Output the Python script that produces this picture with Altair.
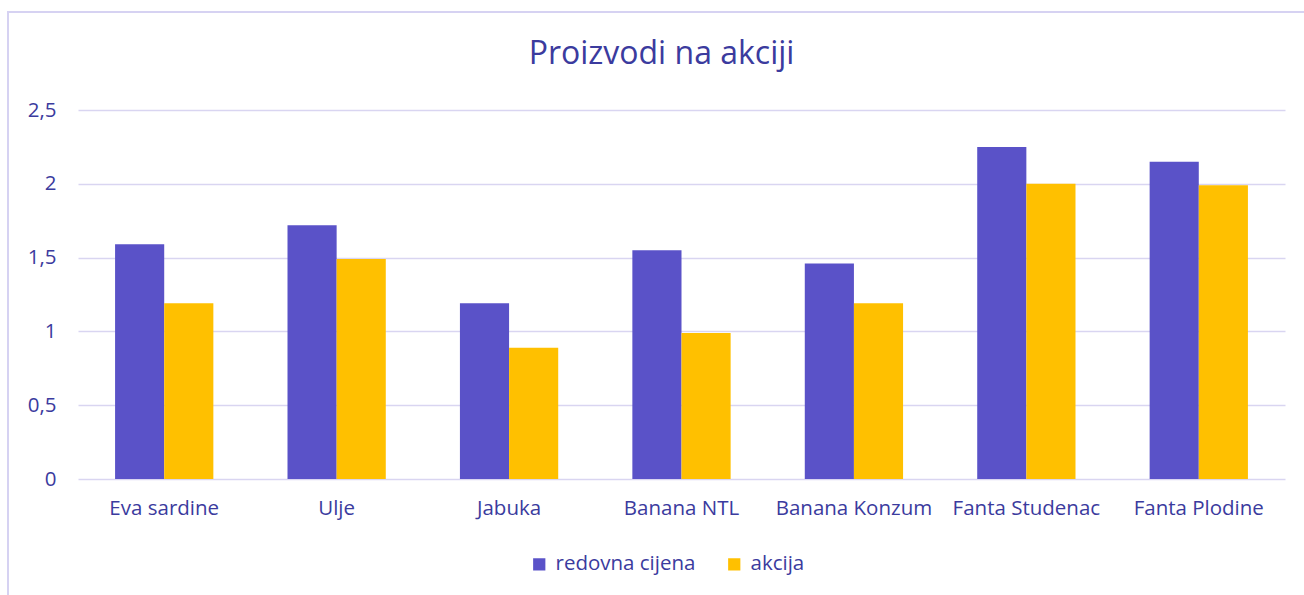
import altair as alt
import pandas as pd

categories = ["Eva sardine", "Ulje", "Jabuka", "Banana NTL", "Banana Konzum", "Fanta Studenac", "Fanta Plodine"]
redovna = [1.59, 1.72, 1.19, 1.55, 1.46, 2.25, 2.15]
akcija = [1.19, 1.49, 0.89, 0.99, 1.19, 2.00, 1.99]
series = ["redovna cijena", "akcija"]
colors = ["#5A52C8", "#FFC000"]

rows = []
for c, r, a in zip(categories, redovna, akcija):
    rows.append({"kat": c, "serija": series[0], "v": r})
    rows.append({"kat": c, "serija": series[1], "v": a})
df = pd.DataFrame(rows)

TXT = "#3B3B9E"
GRID = "#D9D5F1"
FONT = "Open Sans"

bars = alt.Chart(df).mark_bar().encode(
    x=alt.X("kat:N", sort=categories, title=None,
            scale=alt.Scale(paddingInner=0.43, paddingOuter=0.215),
            axis=alt.Axis(labelAngle=0, ticks=False, domain=False, labelPadding=19,
                          labelFontSize=20.5, labelColor=TXT, labelFont=FONT)),
    xOffset=alt.XOffset("serija:N", sort=series),
    y=alt.Y("v:Q", title=None,
            scale=alt.Scale(domain=[0, 2.5]),
            axis=alt.Axis(values=[0, 0.5, 1, 1.5, 2, 2.5], format=",.1~f", ticks=False, domain=False,
                          labelPadding=22, labelFontSize=20.5, labelColor=TXT, labelFont=FONT,
                          gridColor=GRID, gridWidth=1.5,
                          labelExpr="replace(datum.label, '.', ',')")),
    color=alt.Color("serija:N", sort=series,
                    scale=alt.Scale(domain=series, range=colors),
                    legend=alt.Legend(title=None, orient="none", direction="horizontal",
                                      legendX=451, legendY=444,
                                      symbolType="square", symbolSize=150, symbolStrokeWidth=0,
                                      labelFontSize=20.5, labelColor=TXT, labelFont=FONT,
                                      columnPadding=28, labelOffset=6)),
)

border_df = pd.DataFrame({"a": [0]})
top_line = alt.Chart(border_df).mark_rule(color="#D6D2F2", strokeWidth=2).encode(
    x=alt.value(-71), x2=alt.value(1226), y=alt.value(-98))
left_line = alt.Chart(border_df).mark_rule(color="#D6D2F2", strokeWidth=2).encode(
    x=alt.value(-70), y=alt.value(-98), y2=alt.value(490))

chart = alt.layer(bars, top_line, left_line).properties(
    width=1207, height=369,
    title=alt.TitleParams("Proizvodi na akciji", anchor="middle", fontSize=32, font=FONT,
                          fontWeight="normal", color=TXT, offset=-60, dx=-20),
    autosize=alt.AutoSizeParams(type="none"),
    padding={"left": 78, "top": 110, "right": 19, "bottom": 116},
).configure(background="white", view=alt.ViewConfig(stroke=None))

chart.save("out.html", embed_options={"renderer": "svg", "actions": False})
